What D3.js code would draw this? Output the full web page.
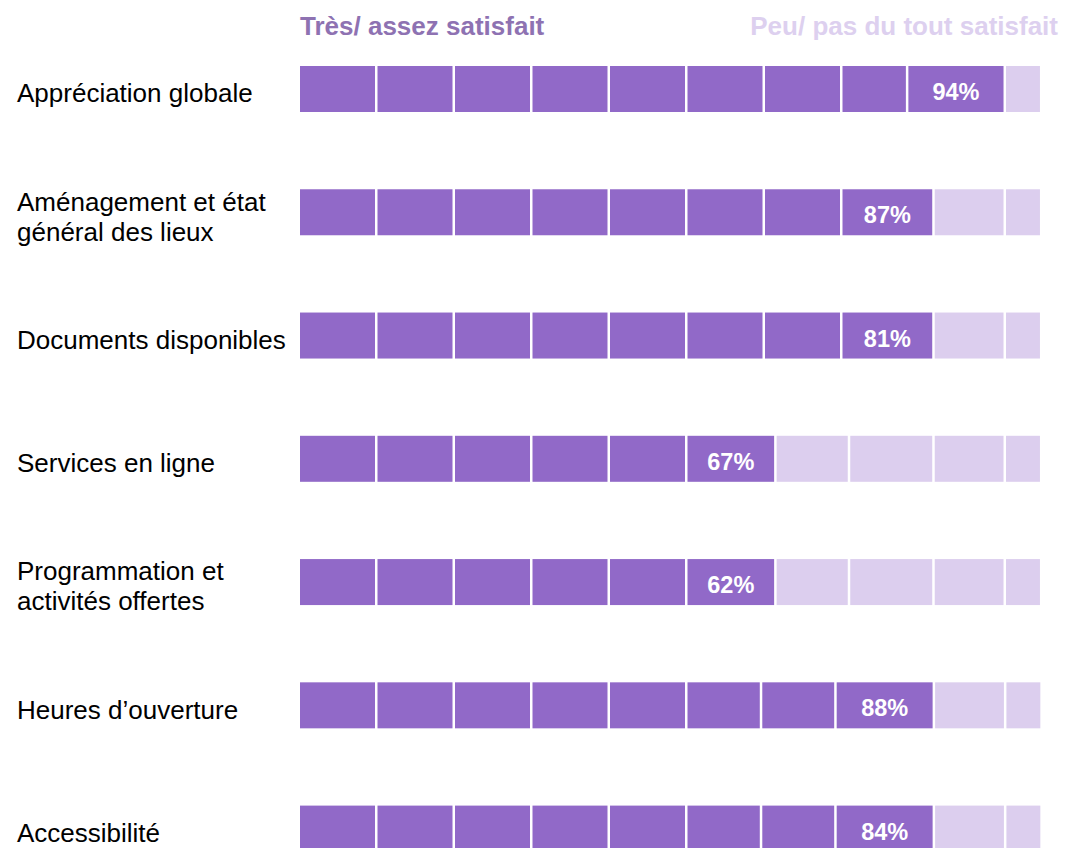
<!DOCTYPE html>
<html>
<head>
<meta charset="utf-8">
<script src="https://cdn.jsdelivr.net/npm/d3@7"></script>
<style>
  html, body { margin: 0; padding: 0; background: #fff; }
  svg { display: block; }
</style>
</head>
<body>
<svg id="chart" width="1068" height="848"></svg>
<script>
// ---- data ----
const categories = [
  "Appréciation globale",
  "Aménagement et état|général des lieux",
  "Documents disponibles",
  "Services en ligne",
  "Programmation et|activités offertes",
  "Heures d’ouverture",
  "Accessibilité"
];
const satisfiedPct = [94, 87, 81, 67, 62, 88, 84];
// widths of the drawn cells (one standard cell = 10 units)
const darkCells = [
  [10, 10, 10, 10, 10, 10, 10, 8.5, 12.6],
  [10, 10, 10, 10, 10, 10, 10, 11.9],
  [10, 10, 10, 10, 10, 10, 10, 11.9],
  [10, 10, 10, 10, 10, 11.5],
  [10, 10, 10, 10, 10, 11.5],
  [10, 10, 10, 10, 10, 9.65, 9.6, 12.7],
  [10, 10, 10, 10, 10, 9.65, 9.6, 12.7]
];
const lightCells = [
  [4.7],
  [9.2, 4.7],
  [9.2, 4.7],
  [9.5, 10.9, 9.2, 4.7],
  [9.5, 10.9, 9.2, 4.7],
  [9.2, 4.7],
  [9.2, 4.7]
];
const legendLabels = ["Très/ assez satisfait", "Peu/ pas du tout satisfait"];

// ---- layout ----
const colDark = "#9169C8", colLight = "#DCCEEE";
const legendDarkCol = "#8E72B2", legendLightCol = "#DDD0EF";
const font = "'Liberation Sans', Arial, sans-serif";
const gap = 2.5, barH = 46;

const svg = d3.select("#chart");

const rows = categories.map((c, i) => {
  const cells = [];
  let acc = 0;
  darkCells[i].forEach((w, j) => {
    cells.push({ start: acc, end: acc + w, dark: true, last: j === darkCells[i].length - 1 });
    acc += w;
  });
  lightCells[i].forEach(w => {
    cells.push({ start: acc, end: acc + w, dark: false, last: false });
    acc += w;
  });
  return { idx: i, label: c, pct: satisfiedPct[i], cells, total: acc };
});

const maxTotal = d3.max(rows, r => r.total);
const x = d3.scaleLinear().domain([0, maxTotal]).range([300, 300 + maxTotal * 7.75]);
const y = d3.scalePoint().domain(d3.range(categories.length)).range([89, 828.6]);

// legend titles
svg.append("text")
  .attr("x", x(0)).attr("y", 35)
  .attr("font-family", font).attr("font-size", 26).attr("font-weight", "bold")
  .attr("fill", legendDarkCol).text(legendLabels[0]);
svg.append("text")
  .attr("x", 1058).attr("y", 35).attr("text-anchor", "end")
  .attr("font-family", font).attr("font-size", 26).attr("font-weight", "bold")
  .attr("fill", legendLightCol).text(legendLabels[1]);

const g = svg.selectAll("g.row").data(rows).join("g").attr("class", "row");

g.selectAll("rect").data(d => d.cells.map(c => ({ ...c, row: d.idx })))
  .join("rect")
  .attr("x", c => x(c.start))
  .attr("y", c => y(c.row) - barH / 2)
  .attr("width", c => x(c.end) - x(c.start) - gap)
  .attr("height", barH)
  .attr("fill", c => c.dark ? colDark : colLight);

// percentage labels in the last dark cell
g.each(function (d) {
  const lastCell = d.cells.filter(c => c.dark && c.last)[0];
  d3.select(this).append("text")
    .attr("x", (x(lastCell.start) + x(lastCell.end) - gap) / 2)
    .attr("y", y(d.idx) + 11)
    .attr("text-anchor", "middle")
    .attr("font-family", font).attr("font-size", 23.5).attr("font-weight", "bold")
    .attr("fill", "#ffffff")
    .text(d.pct + "%");
});

// category labels
g.each(function (d) {
  const lines = d.label.split("|");
  const lh = 30;
  const t = d3.select(this).append("text")
    .attr("font-family", font).attr("font-size", 26).attr("fill", "#000");
  const first = y(d.idx) + 4 + 9.3 - (lines.length - 1) * lh / 2;
  lines.forEach((ln, k) => {
    t.append("tspan").attr("x", 17).attr("y", first + k * lh).text(ln);
  });
});
</script>
</body>
</html>
